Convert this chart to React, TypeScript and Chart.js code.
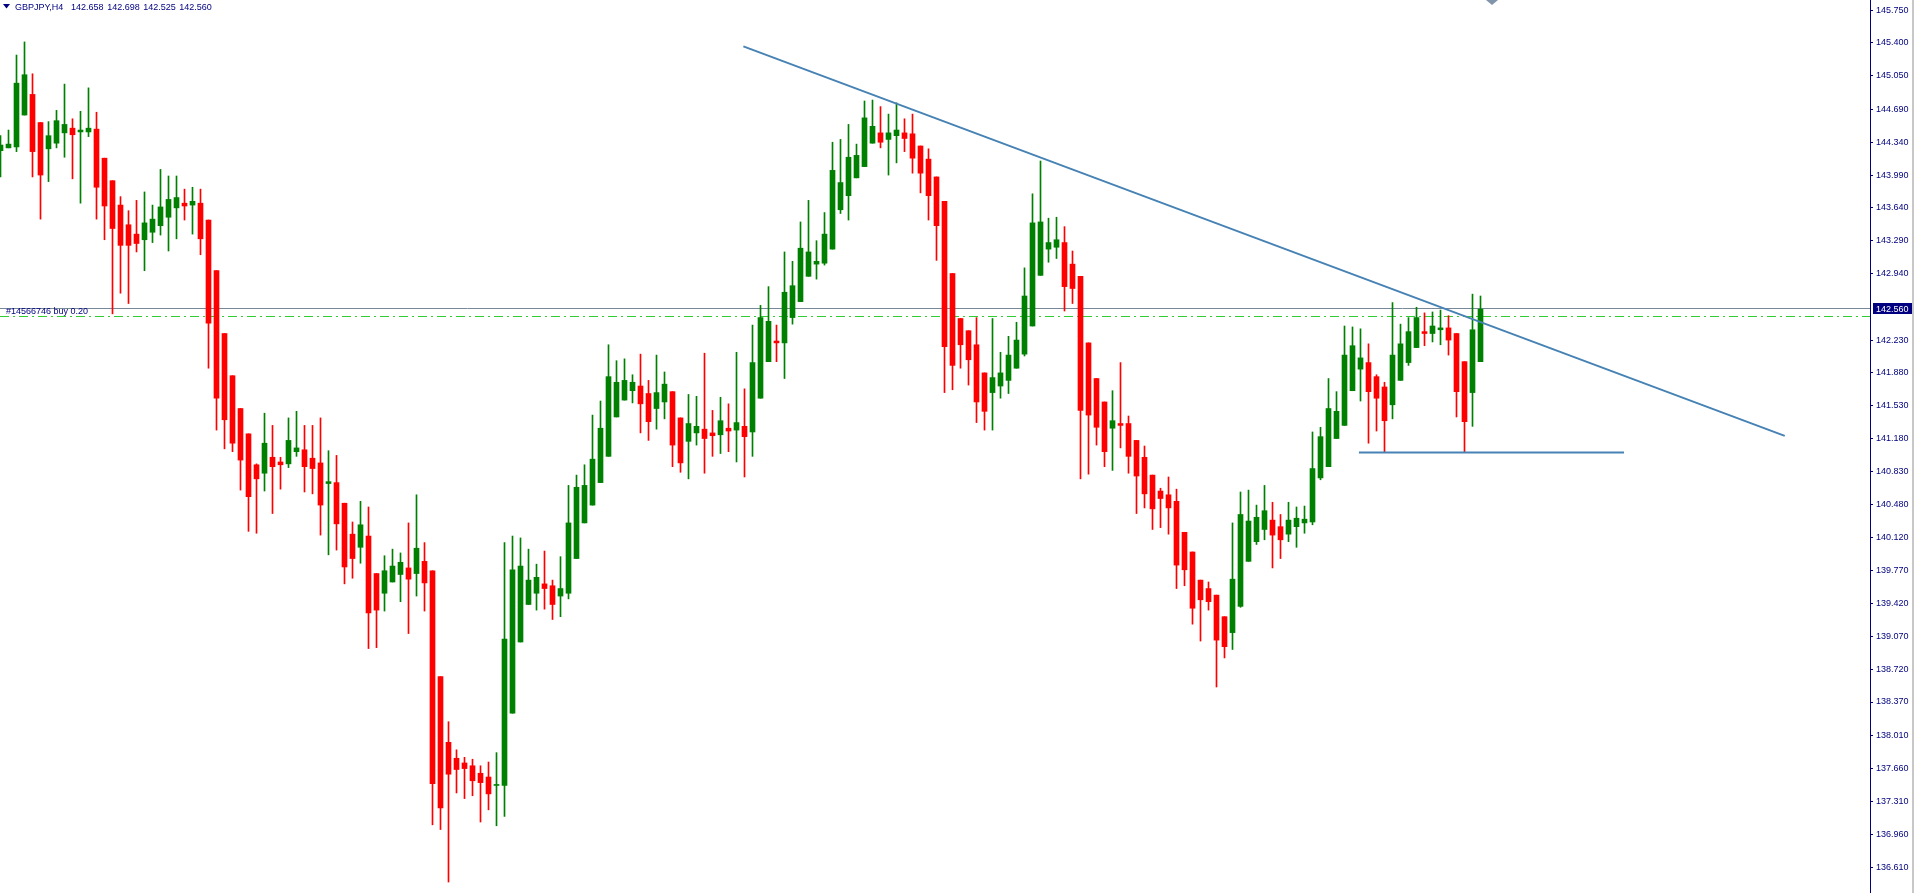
import React, { useEffect, useRef } from "react";
import { Chart, registerables } from "chart.js";

Chart.register(...registerables);

// ---- Data (GBPJPY, H4) ----
const OPEN = [
  144.25, 144.28, 144.29, 144.63, 144.85, 144.55, 144.27, 144.33, 144.44, 144.49,
  144.45, 144.45, 144.48, 144.17, 143.93, 143.67, 143.46, 143.36, 143.30, 143.38,
  143.45, 143.54, 143.64, 143.69, 143.67, 143.69, 143.51, 142.97, 142.30, 141.85,
  141.50, 141.23, 140.90, 140.81, 140.98, 140.93, 140.91, 141.04, 141.06, 140.97,
  140.92, 140.70, 140.71, 140.49, 140.16, 140.02, 140.14, 139.74, 139.53, 139.65,
  139.73, 139.80, 139.74, 139.87, 139.77, 138.64, 137.94, 137.77, 137.72, 137.69,
  137.61, 137.57, 137.48, 137.48, 138.25, 139.01, 139.41, 139.53, 139.63, 139.61,
  139.50, 139.53, 139.90, 140.28, 140.47, 140.71, 140.99, 141.41, 141.59, 141.69,
  141.74, 141.66, 141.50, 141.57, 141.68, 141.40, 141.15, 141.24, 141.28, 141.24,
  141.22, 141.29, 141.27, 141.31, 141.25, 141.61, 142.00, 142.22, 142.20, 142.47,
  142.64, 142.91, 143.04, 143.05, 143.20, 143.62, 143.77, 143.96, 144.08, 144.33,
  144.44, 144.37, 144.41, 144.44, 144.43, 144.30, 144.16, 143.97, 143.71, 142.94,
  142.46, 142.33, 142.18, 141.88, 141.67, 141.74, 141.80, 141.93, 142.08, 142.38,
  142.92, 143.20, 143.22, 143.27, 143.04, 142.91, 142.20, 141.82, 141.57, 141.29,
  141.34, 141.34, 141.16, 140.98, 140.79, 140.62, 140.58, 140.51, 140.18, 139.97,
  139.67, 139.58, 139.51, 139.28, 139.11, 139.39, 139.87, 140.08, 140.21, 140.31,
  140.24, 140.16, 140.24, 140.28, 140.29, 140.76, 140.88, 141.18, 141.32, 141.69,
  141.92, 141.99, 141.84, 141.73, 141.54, 141.80, 141.99, 142.15, 142.32, 142.30,
  142.34, 142.36, 142.30, 142.00, 141.67, 142.00,
];
const HIGH = [
  144.41, 144.47, 145.27, 145.41, 145.07, 144.55, 144.56, 144.68, 144.96, 144.59,
  144.67, 144.92, 144.66, 144.17, 143.93, 143.76, 143.61, 143.72, 143.81, 143.67,
  144.05, 143.98, 143.98, 143.84, 143.86, 143.84, 143.51, 142.97, 142.30, 141.85,
  141.50, 141.23, 140.91, 141.45, 141.32, 140.98, 141.40, 141.47, 141.32, 141.32,
  141.40, 141.05, 141.00, 140.49, 140.29, 140.51, 140.45, 139.74, 139.93, 140.00,
  139.96, 140.28, 140.58, 140.07, 139.77, 138.64, 138.16, 137.86, 137.78, 137.76,
  137.69, 137.73, 137.83, 140.07, 140.14, 140.12, 140.00, 139.84, 139.98, 139.67,
  139.92, 140.68, 140.79, 140.90, 141.43, 141.58, 142.18, 142.01, 142.03, 141.86,
  142.08, 141.80, 142.07, 141.89, 141.68, 141.40, 141.65, 141.63, 142.09, 141.48,
  141.62, 141.55, 142.10, 141.71, 142.39, 142.60, 142.80, 142.39, 143.17, 143.07,
  143.49, 143.72, 143.29, 143.59, 144.34, 144.37, 144.53, 144.32, 144.78, 144.79,
  144.72, 144.64, 144.76, 144.59, 144.64, 144.30, 144.27, 143.97, 143.71, 142.94,
  142.46, 142.33, 142.47, 141.88, 142.46, 142.10, 142.27, 142.42, 143.00, 143.79,
  144.14, 143.53, 143.54, 143.44, 143.18, 142.91, 142.20, 141.82, 141.57, 141.69,
  141.99, 141.42, 141.16, 141.10, 140.79, 140.65, 140.77, 140.64, 140.18, 139.97,
  139.67, 139.65, 139.51, 139.28, 140.28, 140.61, 140.63, 140.47, 140.68, 140.50,
  140.37, 140.50, 140.45, 140.46, 141.25, 141.30, 141.82, 141.68, 142.38, 142.37,
  142.35, 142.19, 141.86, 141.78, 142.63, 142.40, 142.47, 142.58, 142.52, 142.53,
  142.55, 142.49, 142.30, 142.00, 142.72, 142.70,
];
const LOW = [
  143.97, 144.28, 144.24, 144.63, 143.97, 143.52, 143.92, 144.28, 144.18, 143.95,
  143.69, 144.40, 143.52, 143.30, 142.51, 142.73, 142.62, 143.17, 142.97, 143.27,
  143.35, 143.18, 143.31, 143.51, 143.36, 143.14, 141.93, 141.27, 141.07, 141.04,
  140.63, 140.19, 140.17, 140.62, 140.38, 140.64, 140.87, 140.99, 140.61, 140.59,
  140.15, 139.94, 139.99, 139.63, 139.69, 139.85, 138.94, 138.95, 139.34, 139.65,
  139.44, 139.10, 139.50, 139.34, 137.06, 137.01, 136.45, 137.40, 137.34, 137.37,
  137.09, 137.22, 137.05, 137.15, 138.25, 139.01, 139.41, 139.35, 139.36, 139.25,
  139.28, 139.47, 139.90, 140.28, 140.47, 140.71, 140.99, 141.41, 141.59, 141.56,
  141.24, 141.16, 141.28, 141.39, 140.88, 140.82, 140.75, 141.11, 140.81, 140.99,
  141.02, 141.04, 140.93, 140.77, 140.99, 141.61, 142.00, 142.00, 141.82, 142.40,
  142.64, 142.91, 142.88, 143.03, 143.20, 143.58, 143.51, 143.96, 144.08, 144.33,
  144.28, 143.99, 144.12, 144.24, 144.01, 143.80, 143.51, 143.08, 141.67, 141.70,
  141.93, 141.75, 141.35, 141.27, 141.27, 141.61, 141.66, 141.93, 142.06, 142.38,
  142.92, 143.06, 143.10, 142.54, 142.62, 140.75, 140.80, 141.11, 140.88, 140.84,
  141.08, 140.81, 140.38, 140.44, 140.21, 140.23, 140.16, 139.58, 139.61, 139.20,
  139.02, 139.35, 138.53, 138.84, 138.93, 139.38, 139.87, 140.05, 140.10, 139.80,
  139.90, 140.08, 140.02, 140.17, 140.26, 140.74, 140.88, 141.18, 141.32, 141.69,
  141.58, 141.13, 141.26, 141.04, 141.39, 141.80, 141.96, 142.15, 142.17, 142.21,
  142.18, 142.07, 141.41, 141.04, 141.31, 142.00,
];
const CLOSE = [
  144.31, 144.32, 144.97, 145.06, 144.24, 143.99, 144.41, 144.57, 144.53, 144.42,
  144.47, 144.49, 143.86, 143.66, 143.42, 143.24, 143.24, 143.26, 143.48, 143.52,
  143.65, 143.73, 143.75, 143.66, 143.71, 143.31, 142.41, 141.61, 141.38, 141.13,
  140.95, 140.56, 140.75, 141.13, 140.88, 140.90, 141.16, 141.08, 140.88, 140.86,
  140.47, 140.72, 140.27, 139.81, 139.90, 140.26, 139.32, 139.35, 139.77, 139.82,
  139.86, 139.68, 140.01, 139.64, 137.50, 137.24, 137.60, 137.65, 137.66, 137.53,
  137.51, 137.39, 137.49, 139.04, 139.78, 139.82, 139.67, 139.70, 139.58, 139.41,
  139.58, 140.28, 140.66, 140.68, 140.96, 141.29, 141.84, 141.78, 141.80, 141.78,
  141.55, 141.36, 141.67, 141.76, 141.11, 140.92, 141.34, 141.31, 141.18, 141.21,
  141.37, 141.26, 141.35, 141.20, 141.99, 142.47, 142.43, 142.20, 142.74, 142.81,
  143.21, 143.17, 143.07, 143.36, 144.04, 143.91, 144.18, 144.20, 144.60, 144.51,
  144.34, 144.44, 144.47, 144.38, 144.17, 144.01, 143.77, 143.45, 142.16, 141.96,
  142.18, 142.02, 141.57, 141.47, 141.83, 141.88, 142.07, 142.23, 142.70, 143.48,
  143.49, 143.27, 143.30, 142.80, 142.78, 141.48, 141.43, 141.30, 141.04, 141.37,
  141.32, 140.99, 140.78, 140.59, 140.43, 140.54, 140.44, 139.83, 139.78, 139.37,
  139.46, 139.44, 139.03, 138.96, 139.68, 140.37, 140.30, 140.34, 140.41, 140.15,
  140.10, 140.31, 140.33, 140.32, 140.86, 141.20, 141.50, 141.47, 142.07, 142.17,
  142.04, 141.68, 141.61, 141.37, 142.07, 142.19, 142.32, 142.47, 142.30, 142.38,
  142.36, 142.23, 141.68, 141.36, 142.34, 142.56,
];

const Y_TICKS = [
  145.75, 145.4, 145.05, 144.69, 144.34, 143.99, 143.64, 143.29, 142.94,
  142.23, 141.88, 141.53, 141.18, 140.83, 140.48, 140.12, 139.77, 139.42,
  139.07, 138.72, 138.37, 138.01, 137.66, 137.31, 136.96, 136.61,
];
const Y_MIN = 136.333;
const Y_MAX = 145.857;
const X_MIN = -0.0625;
const X_MAX = 233.6875;

const BID = 142.56;
const ORDER_PRICE = 142.48;
const ORDER_LABEL = "#14566746 buy 0.20";
const SYMBOL = "GBPJPY,H4";
const HEADER_OHLC = ["142.658", "142.698", "142.525", "142.560"];

const TREND_X = [92.86, 223.03];
const TREND_Y = [145.362, 141.208];
const SUPPORT_X = [169.8, 202.94];
const SUPPORT_Y = [141.03, 141.03];

const BULL = "#008000";
const BEAR = "#ff0000";
const NAVY = "#000080";
const LINE_BLUE = "rgb(70,130,180)";
const FONT = "Liberation Sans";

export default function App() {
  const canvasRef = useRef<HTMLCanvasElement | null>(null);

  useEffect(() => {
    const canvas = canvasRef.current;
    if (!canvas) return;
    const idx = OPEN.map((_, i) => i);
    const colors = idx.map((i) => (CLOSE[i] >= OPEN[i] ? BULL : BEAR));

    const overlay = {
      id: "mt4overlay",
      beforeDatasetsDraw(chart: any) {
        const { ctx, chartArea, scales } = chart;
        const ys = scales.y;
        ctx.save();
        const by = Math.floor(ys.getPixelForValue(BID) - 0.5) + 0.5;
        ctx.strokeStyle = "#778899";
        ctx.lineWidth = 1;
        ctx.beginPath();
        ctx.moveTo(chartArea.left, by);
        ctx.lineTo(chartArea.right, by);
        ctx.stroke();
        const oy = Math.floor(ys.getPixelForValue(ORDER_PRICE)) + 0.5;
        ctx.strokeStyle = "#32cd32";
        ctx.setLineDash([9, 4, 2, 4]);
        ctx.beginPath();
        ctx.moveTo(chartArea.left, oy);
        ctx.lineTo(chartArea.right, oy);
        ctx.stroke();
        ctx.setLineDash([]);
        ctx.restore();
      },
      afterDraw(chart: any) {
        const { ctx, chartArea, scales } = chart;
        const ys = scales.y;
        ctx.save();
        ctx.font = `9px "${FONT}"`;
        ctx.textBaseline = "alphabetic";
        ctx.fillStyle = NAVY;
        const oy = Math.floor(ys.getPixelForValue(ORDER_PRICE));
        ctx.fillText(ORDER_LABEL, 6, oy - 2.5);
        ctx.beginPath();
        ctx.moveTo(3, 4);
        ctx.lineTo(10, 4);
        ctx.lineTo(6.5, 8.5);
        ctx.closePath();
        ctx.fill();
        ctx.fillText(SYMBOL, 15, 10);
        const hx = [71, 107.3, 143.3, 179.3];
        HEADER_OHLC.forEach((t, i) => ctx.fillText(t, hx[i], 10));
        const by = Math.floor(ys.getPixelForValue(BID) - 0.5);
        ctx.fillStyle = NAVY;
        ctx.fillRect(chartArea.right + 3, by - 5, 39, 11);
        ctx.fillStyle = "#ffffff";
        ctx.fillText(BID.toFixed(3), chartArea.right + 6, by + 4);
        ctx.fillStyle = "#c8c8c8";
        ctx.fillRect(1912, 0, 2, chart.height);
        ctx.fillStyle = "#8194aa";
        ctx.beginPath();
        ctx.moveTo(1486, 0);
        ctx.lineTo(1498, 0);
        ctx.lineTo(1492, 5);
        ctx.closePath();
        ctx.fill();
        ctx.restore();
      },
    };

    const chart = new Chart(canvas, {
      type: "bar",
      data: {
        datasets: [
          {
            type: "line",
            data: TREND_X.map((x, i) => ({ x, y: TREND_Y[i] })),
            borderColor: LINE_BLUE,
            borderWidth: 2,
            pointRadius: 0,
            order: 0,
          } as any,
          {
            type: "line",
            data: SUPPORT_X.map((x, i) => ({ x, y: SUPPORT_Y[i] })),
            borderColor: LINE_BLUE,
            borderWidth: 2,
            pointRadius: 0,
            order: 0,
          } as any,
          {
            type: "bar",
            data: idx.map((i) => ({ x: i, y: [OPEN[i], CLOSE[i]] })),
            backgroundColor: colors,
            barThickness: 5,
            minBarLength: 1,
            grouped: false,
            borderWidth: 0,
            order: 1,
          } as any,
          {
            type: "bar",
            data: idx.map((i) => ({ x: i, y: [LOW[i], HIGH[i]] })),
            backgroundColor: colors,
            barThickness: 1,
            grouped: false,
            borderWidth: 0,
            order: 2,
          } as any,
        ],
      },
      options: {
        responsive: false,
        animation: false,
        devicePixelRatio: 1,
        layout: { padding: 0 },
        plugins: { legend: { display: false }, tooltip: { enabled: false } },
        scales: {
          x: { type: "linear", min: X_MIN, max: X_MAX, display: false, offset: false },
          y: {
            type: "linear",
            position: "right",
            min: Y_MIN,
            max: Y_MAX,
            afterFit: (s: any) => {
              s.width = 44;
              s.paddingTop = 0;
              s.paddingBottom = 0;
            },
            afterBuildTicks: (s: any) => {
              s.ticks = Y_TICKS.map((v) => ({ value: v }));
            },
            border: { display: true, color: NAVY, width: 1 },
            grid: { drawOnChartArea: false, drawTicks: true, tickLength: 3, tickColor: NAVY },
            ticks: {
              padding: 3,
              color: NAVY,
              font: { family: FONT, size: 9 },
              callback: (v: any) => Number(v).toFixed(3),
            },
          },
        },
      } as any,
      plugins: [overlay],
    });
    return () => chart.destroy();
  }, []);

  return (
    <div style={{ position: "fixed", left: 0, top: 0, width: 1914, height: 893, background: "#ffffff" }}>
      <canvas ref={canvasRef} width={1914} height={893} style={{ width: 1914, height: 893, display: "block" }} />
    </div>
  );
}
